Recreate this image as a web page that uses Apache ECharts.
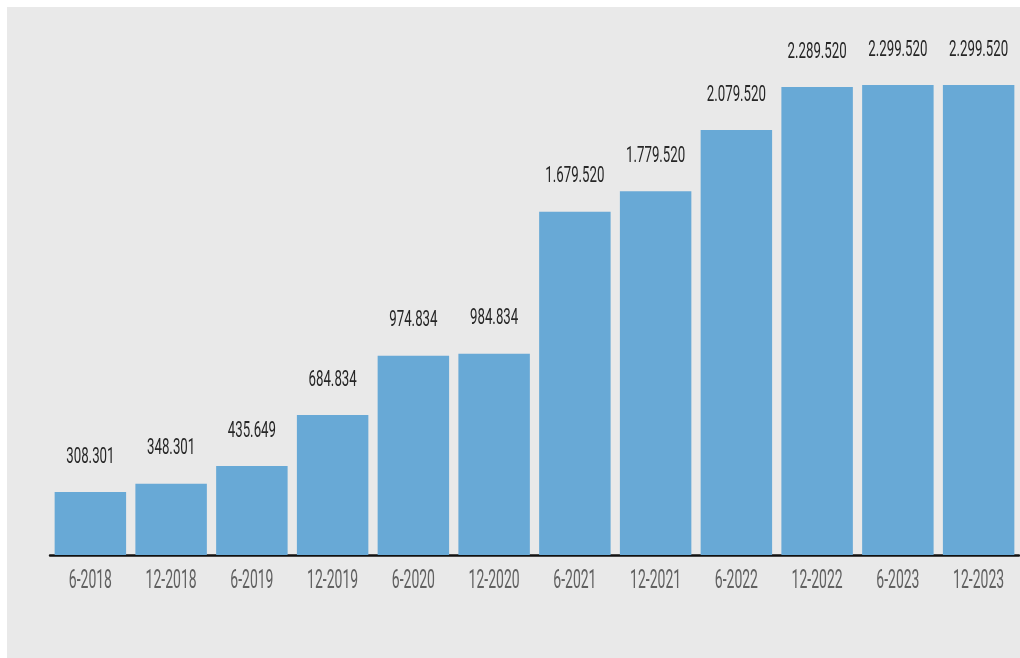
<!DOCTYPE html>
<html>
<head>
<meta charset="utf-8">
<script src="https://cdn.jsdelivr.net/npm/echarts@6/dist/echarts.min.js"></script>
<style>
html,body{margin:0;padding:0;background:#ffffff;}
#bg{position:absolute;left:7px;top:7px;width:1013px;height:651px;background:#e9e9e9;}
#chart{position:absolute;left:0;top:0;width:1020px;height:658px;}
</style>
</head>
<body>
<div id="bg"></div>
<div id="chart"></div>
<script>
const categories = ['6-2018','12-2018','6-2019','12-2019','6-2020','12-2020','6-2021','12-2021','6-2022','12-2022','6-2023','12-2023'];
const values = [308301, 348301, 435649, 684834, 974834, 984834, 1679520, 1779520, 2079520, 2289520, 2299520, 2299520];

function fmt(v){ return String(v).replace(/\B(?=(\d{3})+(?!\d))/g, '.'); }

const font = "Roboto, 'DejaVu Sans', sans-serif";
const labelData = values.map((v, i) => [i, v]);
const catData = categories.map((c, i) => [i, 0]);

const chart = echarts.init(document.getElementById('chart'), null, {renderer:'canvas'});
chart.setOption({
  backgroundColor: 'transparent',
  animation: false,
  grid: {left: 50, right: 1, top: 44, bottom: 103, containLabel: false},
  xAxis: {
    type: 'category',
    data: categories,
    axisLine: {show: true, lineStyle: {color: '#111', width: 2.5}},
    axisTick: {show: false},
    axisLabel: {show: false}
  },
  yAxis: {
    type: 'value',
    min: 0, max: 2500000,
    show: false,
    splitLine: {show: false}
  },
  series: [{
    type: 'bar',
    data: values,
    barCategoryGap: '11.5%',
    itemStyle: {color: '#68a9d6'}
  }, {
    type: 'custom',
    name: 'valueLabels',
    data: labelData,
    clip: false,
    z: 5,
    renderItem: function(params, api){
      const p = api.coord([api.value(0), api.value(1)]);
      return {
        type: 'text',
        x: p[0], y: p[1] - 35,
        scaleX: 0.59,
        style: {
          text: fmt(api.value(1)),
          fill: '#262626',
          fontSize: 22.5,
          fontFamily: font,
          align: 'center',
          verticalAlign: 'middle'
        }
      };
    }
  }, {
    type: 'custom',
    name: 'categoryLabels',
    data: catData,
    clip: false,
    z: 5,
    renderItem: function(params, api){
      const p = api.coord([api.value(0), 0]);
      return {
        type: 'text',
        x: p[0], y: p[1] + 27,
        scaleX: 0.56,
        style: {
          text: categories[api.value(0)],
          fill: '#616161',
          fontSize: 25,
          fontFamily: font,
          align: 'center',
          verticalAlign: 'middle'
        }
      };
    }
  }]
});
</script>
</body>
</html>
